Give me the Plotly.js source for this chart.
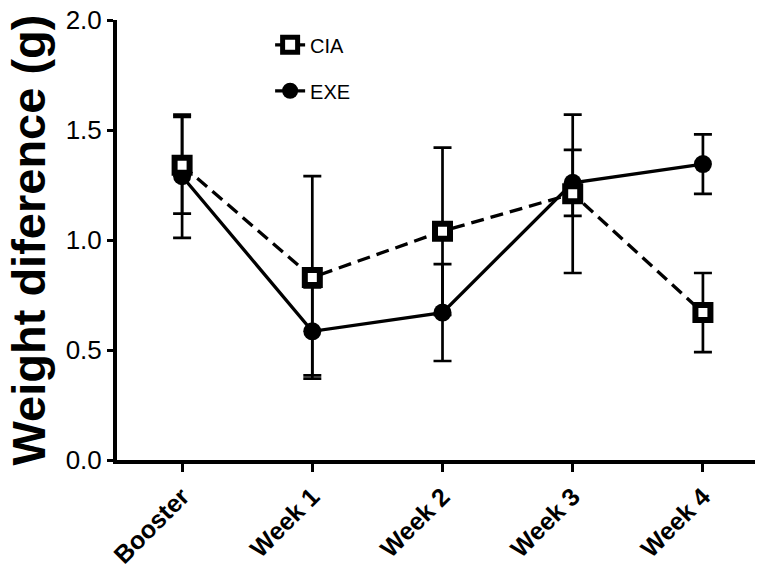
<!DOCTYPE html>
<html>
<head>
<meta charset="utf-8">
<script src="https://cdn.plot.ly/plotly-3.0.1.min.js"></script>
<style>html,body{margin:0;padding:0;background:#fff}#chart{width:759px;height:571px}</style>
</head>
<body>
<div id="chart"></div>
<script>
const categories = ["Booster", "Week 1", "Week 2", "Week 3", "Week 4"];
const ciaMean = [1.34, 0.83, 1.04, 1.21, 0.67];
const ciaErr  = [0.22, 0.46, 0.38, 0.36, 0.18];
const exeMean = [1.29, 0.585, 0.67, 1.26, 1.345];
const exeErr  = [0.28, 0.20, 0.22, 0.15, 0.135];
const yTicks = [0, 0.5, 1.0, 1.5, 2.0];
const yTickText = ["0.0", "0.5", "1.0", "1.5", "2.0"];

const traces = [
  {
    x: categories, y: exeMean, name: "EXE", type: "scatter", mode: "lines+markers",
    legendgroup: "exe", legendrank: 2,
    line: {color: "#000", width: 3.3},
    marker: {symbol: "circle", size: 18, color: "#000"},
    error_y: {type: "data", array: exeErr, visible: true, color: "#000", thickness: 2.7, width: 9}
  },
  {
    x: categories, y: ciaMean, name: "CIA", type: "scatter", mode: "lines+markers",
    legendgroup: "cia", legendrank: 1,
    line: {color: "#000", width: 3.3, dash: "13px,7px"},
    marker: {symbol: "square", size: 15, color: "#fff", line: {color: "#000", width: 6}},
    error_y: {type: "data", array: ciaErr, visible: true, color: "#000", thickness: 2.7, width: 9}
  }
];

const layout = {
  width: 759, height: 571,
  margin: {l: 117, r: 4, t: 20, b: 111},
  paper_bgcolor: "#fff", plot_bgcolor: "#fff",
  font: {family: "Liberation Sans, Arial, sans-serif", color: "#000"},
  showlegend: true,
  legend: {
    x: 0.24, y: 0.988, xanchor: "left", yanchor: "top",
    traceorder: "grouped",
    font: {size: 20, family: "Liberation Sans, Arial, sans-serif"},
    itemwidth: 30, tracegroupgap: 17, bgcolor: "rgba(0,0,0,0)"
  },
  xaxis: {
    type: "category", range: [-0.5, 4.4],
    showline: true, linecolor: "#000", linewidth: 4,
    ticks: "outside", ticklen: 8, tickwidth: 3, tickcolor: "#000",
    tickangle: -45, showgrid: false, zeroline: false,
    tickfont: {size: 25, family: "Liberation Sans, Arial, sans-serif", weight: "bold"}
  },
  yaxis: {
    range: [0, 2.0], tickvals: yTicks, ticktext: yTickText,
    showline: true, linecolor: "#000", linewidth: 4,
    ticks: "outside", ticklen: 6, tickwidth: 3, tickcolor: "#000",
    showgrid: false, zeroline: false,
    tickfont: {size: 26, family: "Liberation Sans, Arial, sans-serif"},
    title: {text: "Weight diference (g)", standoff: 6,
      font: {size: 47, family: "Liberation Sans, Arial, sans-serif", weight: "bold"}}
  }
};

Plotly.newPlot("chart", traces, layout, {displayModeBar: false, staticPlot: true});
</script>
</body>
</html>
